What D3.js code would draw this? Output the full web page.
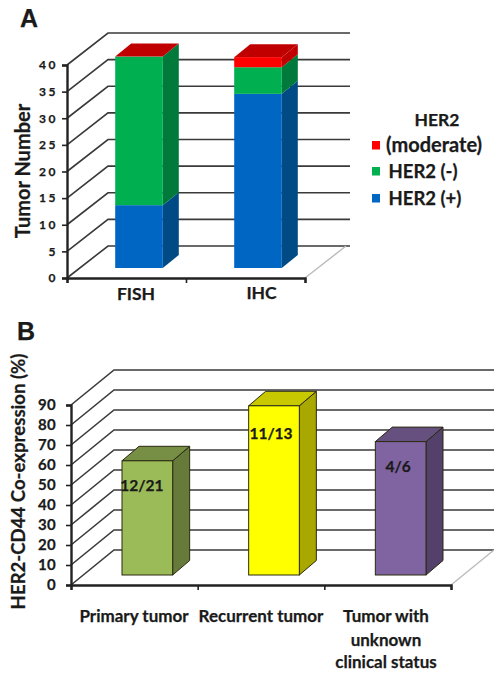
<!DOCTYPE html>
<html>
<head>
<meta charset="utf-8">
<script src="https://d3js.org/d3.v7.min.js"></script>
<style>
  html, body { margin: 0; padding: 0; background: #fff; }
  svg { display: block; }
  text { font-family: Lato, "Open Sans", sans-serif; font-weight: 700; fill: #1a1a1a; stroke: #1a1a1a; stroke-width: 0.25px; }
</style>
</head>
<body>
<svg width="504" height="678"></svg>
<script>
// panel A
var methods = ["FISH", "IHC"];
var her2Pos = [11.8, 32.7];
var her2Neg = [27.9, 5];
var her2Mod = [0, 1.9];
var ticksA = [0, 5, 10, 15, 20, 25, 30, 35, 40];
var legendLabels = ["(moderate)", "HER2 (-)", "HER2 (+)"];

// panel B
var groupsB = [["Primary tumor"], ["Recurrent tumor"], ["Tumor with", "unknown", "clinical status"]];
var coexpr = [57.1, 84.6, 66.7];
var ratios = ["12/21", "11/13", "4/6"];
var ticksB = [0, 10, 20, 30, 40, 50, 60, 70, 80, 90];

var svg = d3.select("svg");

// draws the walls, gridlines and axes of a fake 3d excel chart
function frame(o) {
  var g = svg.append("g");
  var y = o.y, x = o.x;
  var r = x.range();
  g.selectAll("path.grid").data(o.ticks).enter().append("path")
    .attr("fill", "none").attr("stroke", "#3a3a3a").attr("stroke-width", 1.6)
    .attr("d", function(d) {
      return d3.line()([[r[0], y(d)], [r[0] + o.wallX, y(d) - o.wallY], [o.gridEnd, y(d) - o.wallY]]);
    });
  // floor edge is lighter
  g.append("path").attr("fill", "none").attr("stroke", "#bbb").attr("stroke-width", 1.4)
    .attr("d", d3.line()([[r[1], y(0)], [r[1] + o.wallX, y(0) - o.wallY]]));

  var left = g.append("g").attr("transform", "translate(" + r[0] + ",0)")
    .call(d3.axisLeft(y).tickValues(o.ticks).tickSize(5).tickPadding(o.tickPad));
  g.append("g").attr("transform", "translate(0," + y(0) + ")")
    .call(d3.axisBottom(x).tickValues(o.edges).tickSize(5).tickFormat(""));
  g.selectAll(".domain").attr("stroke", "#222").attr("stroke-width", 2.4);
  g.selectAll(".tick line").attr("stroke", "#222").attr("stroke-width", 1.6);
  left.selectAll("text").style("font-size", o.tickFont).style("font-family", "Lato")
    .style("letter-spacing", o.tickSpacing).attr("fill", "#222");
}

// one box: front, side and top faces between values v0 and v1
function box(g, x0, w, y0, y1, o, c, stroke, showTop) {
  var sx = o.sideX, sy = o.sideY, st = stroke || "none";
  g.append("path").attr("fill", c.side).attr("stroke", st)
    .attr("d", d3.line()([[x0 + w, y1], [x0 + w + sx, y1 - sy], [x0 + w + sx, y0 - sy], [x0 + w, y0]]) + "Z");
  if (showTop) {
    g.append("path").attr("fill", c.top).attr("stroke", st)
      .attr("d", d3.line()([[x0, y1], [x0 + sx, y1 - sy], [x0 + w + sx, y1 - sy], [x0 + w, y1]]) + "Z");
  }
  g.append("rect").attr("x", x0).attr("y", y1).attr("width", w).attr("height", Math.max(0, y0 - y1))
    .attr("fill", c.front).attr("stroke", st);
}

/* ---- A ---- */
var colPos = {front: "#0066c4", side: "#004a85", top: "#004a85"};
var colNeg = {front: "#00b050", side: "#007a3a", top: "#007a3a"};
var colMod = {front: "#ff0000", side: "#c00000", top: "#c00000"};

var xA = d3.scaleBand().domain(methods).range([67, 305]).paddingInner(0.6).paddingOuter(0.3);
var yA = d3.scaleLinear().domain([0, 40]).range([278, 65]);
var optA = {ticks: ticksA, y: yA, wallX: 41, wallY: 32, gridEnd: 350, tickFont: "12px", tickPad: 4,
            tickSpacing: "2.5px", sideX: 16, sideY: 13, edges: [0, 1, 2],
            x: d3.scaleLinear().domain([0, 2]).range([67, 305])};
frame(optA);

var barsA = svg.append("g").attr("transform", "translate(13,-10)");
methods.forEach(function(m, i) {
  var stack = [[her2Pos[i], colPos], [her2Neg[i], colNeg], [her2Mod[i], colMod]];
  var sum = 0;
  stack.forEach(function(s, j) {
    var y0 = yA(sum), y1 = yA(sum + s[0]);
    sum += s[0];
    box(barsA, xA(m) - 0.5, xA.bandwidth(), y0, y1, optA, s[1], null, j == 2);
  });
});

svg.append("g").selectAll("text").data(methods).enter().append("text")
  .attr("x", function(d, i) { return [136, 261.5][i]; })
  .attr("y", function(d, i) { return [300, 299][i]; })
  .attr("text-anchor", "middle").style("font-size", "17.5px")
  .text(function(d) { return d; });

svg.append("text").attr("transform", "translate(30,171) rotate(-90)")
  .attr("text-anchor", "middle").style("font-size", "20px").text("Tumor Number");
svg.append("text").attr("x", 20).attr("y", 27).style("font-size", "25px").style("font-family", "Liberation Sans")
  .attr("fill", "#000").text("A");

// legend
var legendColors = [colMod.front, colNeg.front, colPos.front];
var legendY = [152, 178, 205];
var legend = svg.append("g");
legend.append("text").attr("x", 437).attr("y", 126).attr("text-anchor", "middle")
  .style("font-size", "17.5px").text("HER2");
legendLabels.forEach(function(l, i) {
  legend.append("rect").attr("x", 372).attr("y", legendY[i] - 11).attr("width", 8).attr("height", 8.5)
    .attr("fill", legendColors[i]);
  legend.append("text").attr("x", i ? 388.5 : 386).attr("y", legendY[i])
    .style("font-size", i ? "18.5px" : "20px").text(l);
});

/* ---- B ---- */
var names = groupsB.map(function(d) { return d.join(" "); });
var xB = d3.scaleBand().domain(names).range([71, 451]).paddingInner(0.6).paddingOuter(0.3);
var yB = d3.scaleLinear().domain([0, 90]).range([585, 405]);
var optB = {ticks: ticksB, wallX: 43, wallY: 35, gridEnd: 494, tickFont: "15px", tickPad: 10, tickSpacing: "0.3px",
            edges: [0, 1, 2, 3], sideX: 17, sideY: 14.5, y: yB,
            x: d3.scaleLinear().domain([0, 3]).range([71, 451])};
frame(optB);

var colsB = [
  {front: "#9bbb59", side: "#667a3a", top: "#768f45"},
  {front: "#ffff00", side: "#a8a800", top: "#c8c800"},
  {front: "#8064a2", side: "#53416c", top: "#65507f"}
];
var barsB = svg.append("g").attr("transform", "translate(13,-10)");
names.forEach(function(n, i) {
  box(barsB, xB(n), xB.bandwidth(), yB(0), yB(coexpr[i]), optB, colsB[i], "#2a2a10", true);
  barsB.append("text")
    .attr("x", xB(n) + xB.bandwidth() / 2 + [-5.5, -3, -2.5][i])
    .attr("y", yB(coexpr[i]) + [30, 33, 30][i])
    .attr("text-anchor", "middle").style("font-size", "15.5px").text(ratios[i]);
});

var labelCx = [134, 261, 386];
groupsB.forEach(function(lines, i) {
  lines.forEach(function(t, k) {
    svg.append("text").attr("x", labelCx[i]).attr("y", 622 + [0, 24, 46][k])
      .attr("text-anchor", "middle").style("font-size", "17px").text(t);
  });
});

svg.append("text").attr("transform", "translate(25,481.5) rotate(-90)")
  .attr("text-anchor", "middle").style("font-size", "18.6px").text("HER2-CD44 Co-expression (%)");
svg.append("text").attr("x", 17).attr("y", 340).style("font-size", "25px").style("font-family", "Liberation Sans")
  .attr("fill", "#000").text("B");
</script>
</body>
</html>
